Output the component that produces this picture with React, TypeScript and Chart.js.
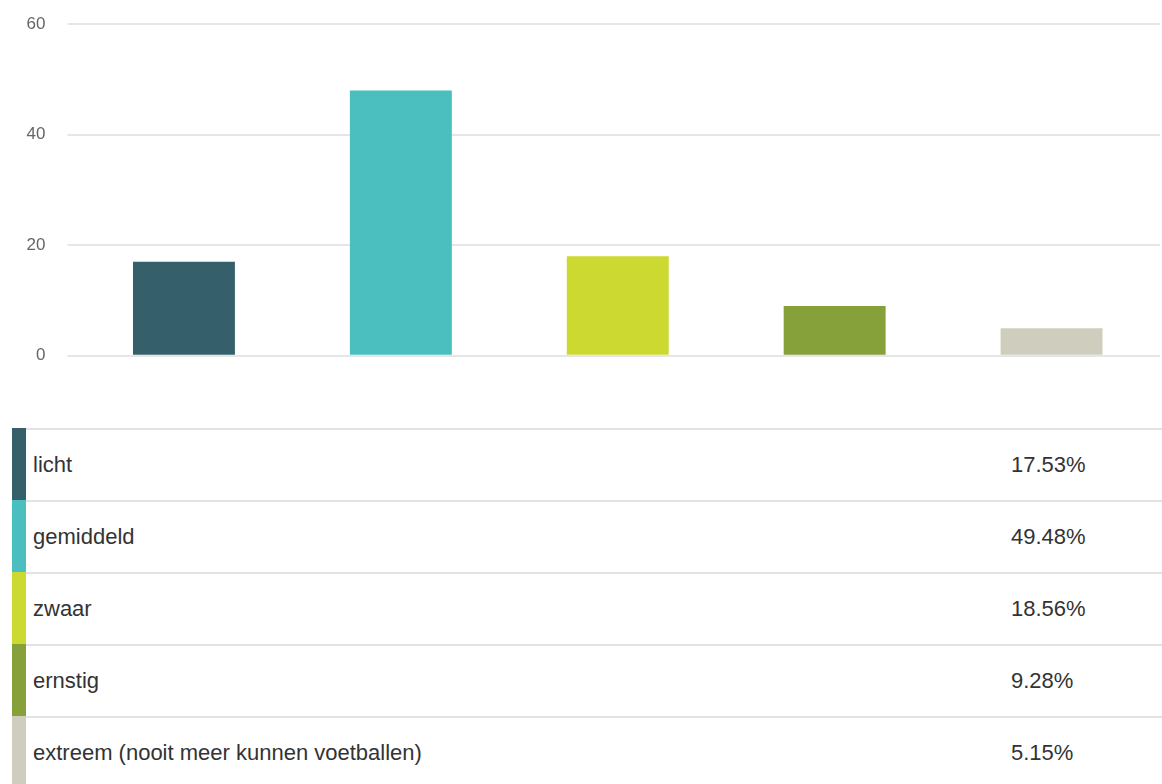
import React, { useEffect, useRef } from "react";
import { Chart, registerables } from "chart.js";

Chart.register(...registerables);

const categories = ["licht", "gemiddeld", "zwaar", "ernstig", "extreem (nooit meer kunnen voetballen)"];
const counts = [17, 48, 18, 9, 5];
const percentages = ["17.53%", "49.48%", "18.56%", "9.28%", "5.15%"];
const colors = ["#355f6b", "#4bbfbf", "#cbd930", "#86a13a", "#cfcebe"];
const yTicks = [0, 20, 40, 60];

export default function App() {
  const ref = useRef<HTMLCanvasElement | null>(null);

  useEffect(() => {
    document.body.style.margin = "0";
    const canvas = ref.current;
    if (!canvas) return;
    const chart = new Chart(canvas, {
      type: "bar",
      data: {
        labels: categories,
        datasets: [
          {
            data: counts,
            backgroundColor: colors,
            borderWidth: 0,
            categoryPercentage: 1,
            barPercentage: 0.47,
          },
        ],
      },
      options: {
        animation: false,
        responsive: false,
        maintainAspectRatio: false,
        layout: { padding: { top: 0, bottom: 0, right: 2, left: 0 } },
        plugins: { legend: { display: false }, tooltip: { enabled: false } },
        scales: {
          x: {
            display: false,
            grid: { display: false },
          },
          y: {
            min: 0,
            max: 60,
            afterFit: (s: any) => {
              s.width = 75.5;
            },
            afterBuildTicks: (s: any) => {
              s.ticks = yTicks.map((v) => ({ value: v }));
            },
            border: { display: false },
            grid: {
              color: "#e6e6e6",
              lineWidth: 2,
              tickLength: 8,
              tickColor: "#e6e6e6",
            },
            ticks: {
              padding: 22,
              color: "#666666",
              font: { family: "'Liberation Sans', Arial, sans-serif", size: 17 },
            },
          },
        },
      },
    });
    return () => chart.destroy();
  }, []);

  return (
    <div style={{ position: "relative", width: 1162, height: 784, overflow: "hidden", background: "#fff" }}>
      <canvas ref={ref} width={1162} height={396} style={{ position: "absolute", left: 0, top: -8 }} />
      <div
        style={{
          position: "absolute",
          left: 12,
          top: 428,
          right: 0,
          borderTop: "2px solid #e3e3e3",
          fontFamily: "'Liberation Sans', Arial, sans-serif",
          fontSize: 22,
          color: "#333333",
        }}
      >
        {categories.map((c, i) => (
          <div
            key={c}
            style={{
              position: "relative",
              height: 70,
              borderBottom: "2px solid #e3e3e3",
              display: "flex",
              alignItems: "center",
            }}
          >
            <div
              style={{
                position: "absolute",
                left: 0,
                top: -2,
                bottom: -2,
                width: 14,
                background: colors[i],
              }}
            />
            <span style={{ position: "absolute", left: 21 }}>{c}</span>
            <span style={{ position: "absolute", left: 999 }}>{percentages[i]}</span>
          </div>
        ))}
      </div>
    </div>
  );
}
